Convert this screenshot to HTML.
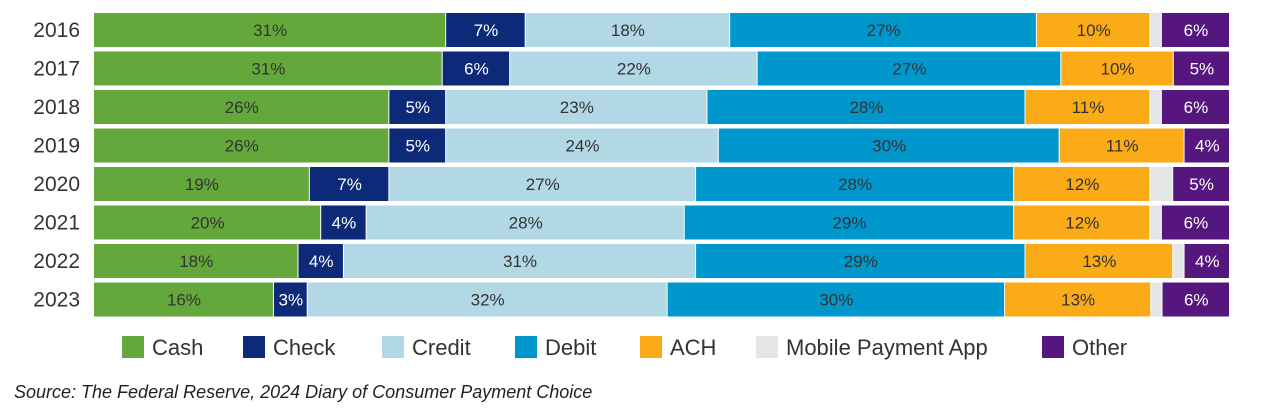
<!DOCTYPE html>
<html><head><meta charset="utf-8"><style>
body{margin:0;background:#fff;width:1262px;height:412px;overflow:hidden;font-family:"Liberation Sans",sans-serif}
</style></head><body>
<svg id="chart" width="1262" height="412" xmlns="http://www.w3.org/2000/svg" font-family="Liberation Sans, sans-serif">
<g id="bars"></g>
<g id="legend"></g>
<text x="14" y="398" font-size="18" font-style="italic" fill="#222">Source: The Federal Reserve, 2024 Diary of Consumer Payment Choice</text>
</svg>
<script>
const years=["2016","2017","2018","2019","2020","2021","2022","2023"];
const seriesNames=["Cash","Check","Credit","Debit","ACH","Mobile Payment App","Other"];
const cash=[31,31,26,26,19,20,18,16];
const check=[7,6,5,5,7,4,4,3];
const credit=[18,22,23,24,27,28,31,32];
const debit=[27,27,28,30,28,29,29,30];
const ach=[10,10,11,11,12,12,13,13];
const mobile=[1,0,1,0,2,1,1,1];
const other=[6,5,6,4,5,6,4,6];
const colors=["#64a83c","#0c2a78","#b2d8e6","#0098cc","#fbab18","#e4e5e7","#55177d"];
const textCol=["#333","#fff","#333","#333","#333","#333","#fff"];
const series=[cash,check,credit,debit,ach,mobile,other];
const NS="http://www.w3.org/2000/svg";
const x0=94,x1=1230,top0=13,pitch=38.5,bh=34;
const xs=(cum,total)=>x0+(x1-x0)*cum/total;
const yRow=i=>top0+pitch*i;
const gb=document.getElementById("bars");
years.forEach((yr,i)=>{
  const t=document.createElementNS(NS,"text");
  
  
  t.setAttribute("x",80);t.setAttribute("y",yRow(i)+bh/2+7);t.setAttribute("text-anchor","end");
  t.setAttribute("font-size","21");t.setAttribute("fill","#333");t.textContent=yr;gb.appendChild(t);
  const total=series.reduce((s,a)=>s+a[i],0);
  let cum=0;
  series.forEach((arr,k)=>{
    const v=arr[i];const xa=xs(cum,total),xb=xs(cum+v,total);cum+=v;
    if(v<=0)return;
    const r=document.createElementNS(NS,"rect");
    
    
    r.setAttribute("x",xa);r.setAttribute("y",yRow(i));r.setAttribute("width",Math.max(0,xb-xa-1));r.setAttribute("height",bh);
    r.setAttribute("fill",colors[k]);gb.appendChild(r);
    if(k!==5){
      const l=document.createElementNS(NS,"text");
      
      
      l.setAttribute("x",(xa+xb)/2);l.setAttribute("y",yRow(i)+bh/2+6);l.setAttribute("text-anchor","middle");
      l.setAttribute("font-size","17");l.setAttribute("fill",textCol[k]);l.textContent=v+"%";gb.appendChild(l);
    }
  });
});
const lx=[122,243,382,515,640,756,1042];
const gl=document.getElementById("legend");
seriesNames.forEach((n,k)=>{
  const r=document.createElementNS(NS,"rect");
  
  
  r.setAttribute("x",lx[k]);r.setAttribute("y",336);r.setAttribute("width",22);r.setAttribute("height",22);r.setAttribute("fill",colors[k]);gl.appendChild(r);
  const t=document.createElementNS(NS,"text");
  
  
  t.setAttribute("x",lx[k]+30);t.setAttribute("y",355);t.setAttribute("font-size","22");t.setAttribute("fill","#333");t.textContent=n;gl.appendChild(t);
});
</script>
</body></html>
